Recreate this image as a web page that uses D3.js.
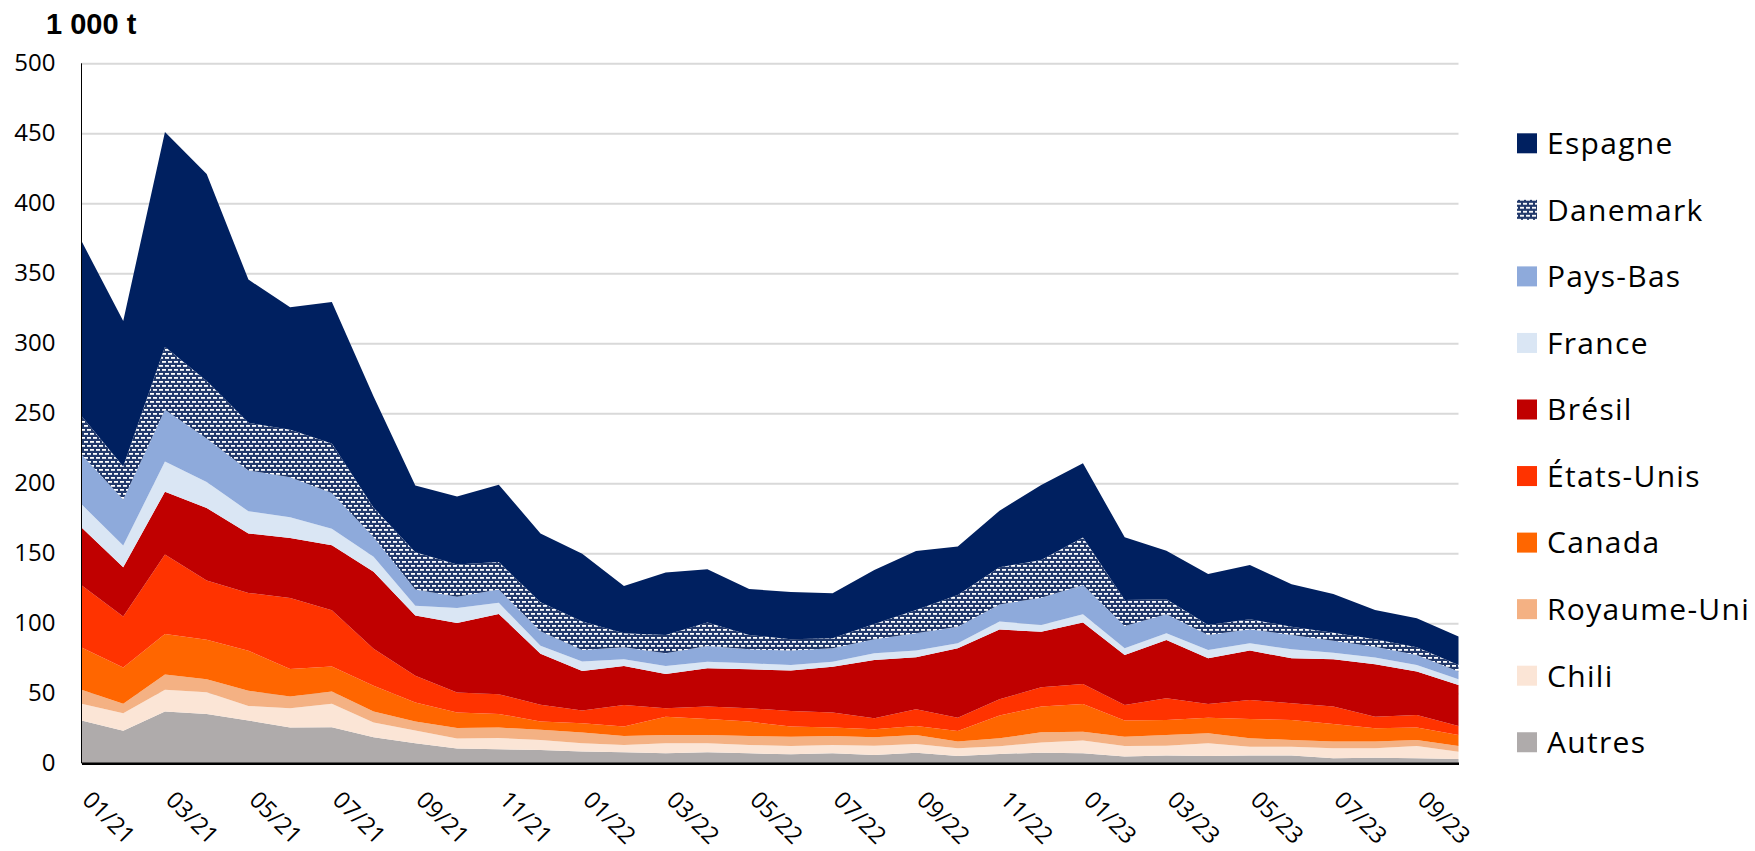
<!DOCTYPE html>
<html>
<head>
<meta charset="utf-8">
<script src="https://cdn.jsdelivr.net/npm/d3@7/dist/d3.min.js"></script>
<style>
  body { margin: 0; background: #fff; }
</style>
</head>
<body>
<svg id="chart" width="1755" height="851"></svg>
<script>
// months, 01/21 -> 10/23
const months = ['01/21', '02/21', '03/21', '04/21', '05/21', '06/21', '07/21', '08/21', '09/21', '10/21', '11/21', '12/21',
    '01/22', '02/22', '03/22', '04/22', '05/22', '06/22', '07/22', '08/22', '09/22', '10/22', '11/22', '12/22',
    '01/23', '02/23', '03/23', '04/23', '05/23', '06/23', '07/23', '08/23', '09/23', '10/23'];

// series, in 1 000 t (bottom of the stack first)
const autres = [30.5, 23.2, 37, 35.3, 30.5, 25.5, 25.8, 18.6, 14.3, 10.5, 10, 9.5, 8.5, 7.9, 7.1, 7.9, 7.1, 6.4, 7.1, 6, 7.6, 5.2, 6.7, 7.6, 7.1, 4.8, 5.5, 5.2, 5.5, 5.5, 3.6, 4, 3.6, 3.1];
const chili = [12, 12.6, 15.5, 15.5, 10.5, 13.9, 16.7, 10.5, 9.1, 7.2, 8.1, 7.2, 5.8, 5.2, 7.2, 6.4, 6, 6, 6, 6.6, 6.2, 5.5, 5.5, 7.2, 9.1, 7.6, 7.1, 9.1, 6.4, 6.4, 7.1, 6.7, 8.8, 5.2];
const royaumeUni = [10, 6.7, 11, 9.3, 10.8, 8.3, 8.8, 7.9, 6.4, 7.6, 7.4, 7.2, 7.7, 6.4, 5.9, 5.9, 6.4, 6.6, 6.4, 6, 6.4, 4.8, 5.7, 7.3, 6.4, 6.6, 7.6, 7.1, 6, 4.8, 4.8, 4.8, 4.3, 4.1];
const canada = [30.3, 26, 28.9, 28.2, 28.6, 19.6, 17.9, 18.4, 13.6, 11, 9.8, 5.9, 6.6, 6.7, 13.1, 11.5, 10.3, 7.2, 6, 5.7, 6.5, 7.6, 16.3, 18.4, 19.8, 11.5, 10.8, 11.2, 13.8, 14.3, 12.6, 9.5, 8.8, 7.8];
const etatsUnis = [44.4, 36.3, 56.8, 42.2, 41.3, 50.8, 40.1, 26.5, 19.1, 14.3, 14.1, 12, 9.2, 15.5, 6, 8.8, 9.5, 11.2, 10.7, 7.8, 11.9, 9.5, 11.5, 13.8, 14.3, 11.2, 15.4, 9.8, 13.5, 11.9, 12.4, 8.3, 9, 6.5];
const bresil = [41.3, 35.2, 44.8, 51.8, 42.5, 42.9, 46.5, 54.9, 43, 49.6, 57.3, 36.5, 28.2, 27.8, 24.5, 27.4, 27.8, 28.8, 32.8, 41.7, 37.1, 49.5, 49.8, 39.7, 43.8, 35.7, 41.7, 32.6, 35.3, 32.1, 33.8, 37.4, 31, 29.3];
const france = [16.5, 15.6, 21.5, 18.7, 15.8, 14.8, 11.7, 10.7, 7.1, 10.8, 7.9, 5.7, 6.7, 4.8, 5.7, 4.7, 4.3, 4, 3.6, 4.8, 4.8, 3.6, 5.7, 4.8, 5.9, 4.7, 4.8, 6, 5.2, 6.4, 4.7, 4.8, 4.7, 4];
const paysBas = [35.5, 32.9, 37, 31, 29.2, 28.6, 25.5, 14.1, 11.5, 7.9, 9.5, 10.3, 8.3, 8.6, 9.1, 11.2, 10, 10.3, 9.5, 10, 12.4, 11.9, 12.3, 19.5, 21, 16, 13.5, 10.7, 10, 10.3, 8.6, 7.8, 7.2, 5.5];
const danemark = [27.5, 23.5, 45, 41, 34, 33.9, 35.5, 21, 26.7, 23.1, 19.6, 20.7, 20.2, 10, 13.1, 16.7, 10.3, 8.1, 7.2, 10.9, 16.6, 22.6, 26.5, 26.9, 33.8, 18.6, 10.7, 7.1, 7.2, 5.9, 5.7, 5.3, 5.5, 4.7];
const espagne = [125, 104, 153.5, 148, 102.3, 87.4, 101, 79.4, 47.7, 48.5, 55.3, 49.2, 48.5, 33.8, 44.5, 38.1, 32.8, 33.8, 32.1, 38.6, 42.2, 34.6, 40.4, 53.6, 53.1, 44.7, 34.8, 36.4, 38.8, 30.3, 27.7, 20.9, 20.7, 20.3];

const names = ['Autres', 'Chili', 'Royaume-Uni', 'Canada', 'États-Unis', 'Brésil', 'France', 'Pays-Bas', 'Danemark', 'Espagne'];
const values = [autres, chili, royaumeUni, canada, etatsUnis, bresil, france, paysBas, danemark, espagne];
const colors = ['#afabab', '#fbe5d6', '#f4b183', '#ff6600', '#ff3300', '#c00000', '#dae6f4', '#8eaadb', 'url(#danemark)', '#002060'];

const yTicks = [0, 50, 100, 150, 200, 250, 300, 350, 400, 450, 500];
const unit = '1 000 t';

const plotLeft = 81.5, plotRight = 1458.5, plotTop = 63.3, plotBottom = 763.3;
const font = "'Open Sans', 'Noto Sans', sans-serif";

const svg = d3.select('#chart');

// pattern for Danemark
const pattern = svg.append('defs').append('pattern')
    .attr('id', 'danemark')
    .attr('patternUnits', 'userSpaceOnUse')
    .attr('width', 6)
    .attr('height', 8);
pattern.append('rect').attr('width', 6).attr('height', 8).attr('fill', '#22396b');
pattern.append('rect').attr('x', 0).attr('y', 1).attr('width', 4).attr('height', 1.8).attr('fill', '#fff');
pattern.append('rect').attr('x', 3).attr('y', 5).attr('width', 4).attr('height', 1.8).attr('fill', '#fff');
pattern.append('rect').attr('x', -3).attr('y', 5).attr('width', 4).attr('height', 1.8).attr('fill', '#fff');

const x = d3.scaleLinear().domain([0, months.length - 1]).range([plotLeft, plotRight]);
const y = d3.scaleLinear().domain([0, 500]).range([plotBottom, plotTop]);

// gridlines
svg.append('g')
    .attr('transform', `translate(${plotLeft},0)`)
    .call(d3.axisLeft(y).tickValues(yTicks.slice(1)).tickSize(-(plotRight - plotLeft)).tickFormat(''))
    .call(g => g.select('.domain').remove())
    .call(g => g.selectAll('line').attr('stroke', '#d9d9d9').attr('stroke-width', 2));

// stacked areas
const table = months.map((m, i) => {
    const row = { month: m };
    names.forEach((n, k) => row[n] = values[k][i]);
    return row;
});
const stack = d3.stack().keys(names)(table);
const area = d3.area()
    .x((d, i) => x(i))
    .y0(d => y(d[0]))
    .y1(d => y(d[1]));

svg.append('g')
    .selectAll('path')
    .data(stack)
    .enter().append('path')
    .attr('d', area)
    .attr('fill', (d, i) => colors[i]);

// left axis line
svg.append('line')
    .attr('x1', plotLeft).attr('x2', plotLeft)
    .attr('y1', plotTop).attr('y2', plotBottom)
    .attr('stroke', '#000').attr('stroke-width', 1);

// y tick labels
svg.append('g')
    .attr('transform', `translate(${plotLeft},0)`)
    .call(d3.axisLeft(y).tickValues(yTicks).tickSize(0).tickPadding(26))
    .call(g => g.select('.domain').remove())
    .call(g => g.selectAll('text')
        .attr('font-family', font)
        .attr('font-size', 24)
        .attr('fill', '#000'));

// x axis
svg.append('g')
    .attr('transform', `translate(0,${plotBottom})`)
    .call(d3.axisBottom(x)
        .tickValues(d3.range(0, months.length, 2))
        .tickFormat(i => months[i])
        .tickSize(0))
    .call(g => g.select('.domain').attr('stroke', '#000').attr('stroke-width', 2.5))
    .call(g => g.selectAll('text')
        .attr('x', 0).attr('y', 0).attr('dy', 0)
        .attr('transform', 'translate(-1,38) rotate(45)')
        .style('text-anchor', 'start')
        .attr('font-family', font)
        .attr('font-size', 23.5)
        .attr('fill', '#000'));

// unit
svg.append('text')
    .attr('x', 46).attr('y', 34)
    .attr('font-family', "'Liberation Sans', Arial, sans-serif")
    .attr('font-weight', 'bold')
    .attr('font-size', 29)
    .text(unit);

// legend, top to bottom
const legend = svg.append('g')
    .selectAll('g')
    .data(names.slice().reverse())
    .enter().append('g')
    .attr('transform', (d, i) => `translate(1517,${143.3 + i * 66.55})`);
legend.append('rect')
    .attr('x', 0).attr('y', -10)
    .attr('width', 20).attr('height', 20)
    .attr('fill', d => colors[names.indexOf(d)]);
legend.append('text')
    .attr('x', 30).attr('y', 10.8)
    .attr('font-family', font)
    .attr('font-size', 30)
    .attr('letter-spacing', 1.3)
    .attr('fill', '#000')
    .text(d => d);
</script>
</body>
</html>
